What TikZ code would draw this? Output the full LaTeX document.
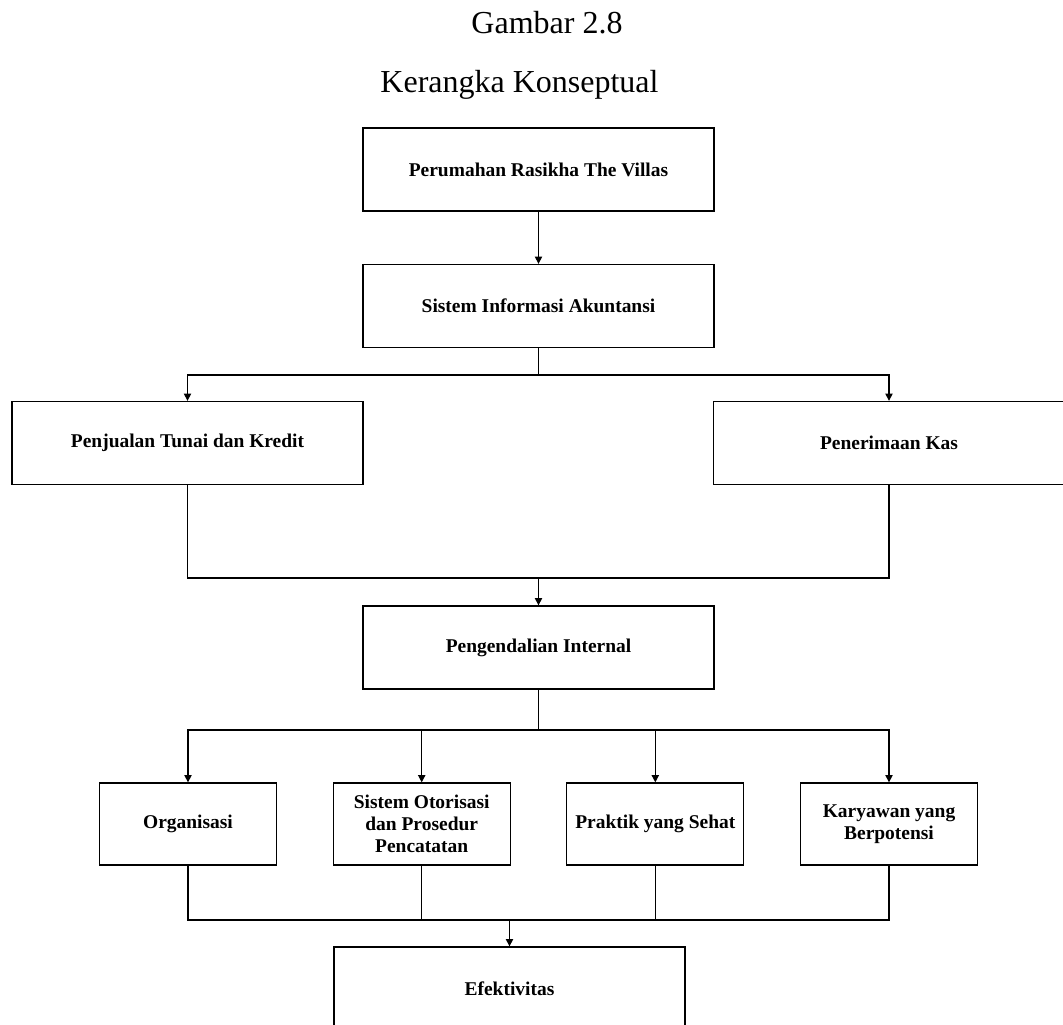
\documentclass[tikz,border=0pt]{standalone}
\usepackage{fontspec}
\setmainfont{Liberation Serif}
\usetikzlibrary{arrows.meta}
\tikzset{
  box/.style={draw, line width=1pt, minimum width=263.25pt, minimum height=62.25pt, inner sep=0pt, align=center, font=\fontsize{14.6}{16.5}\selectfont\bfseries},
  sbox/.style={box, minimum width=132.75pt, minimum height=61.5pt},
  ttl/.style={anchor=base, inner sep=0pt, font=\fontsize{24}{28}\selectfont},
  ln/.style={line width=1pt},
  arr/.style={ln, -{Triangle[length=5.5pt,width=5.5pt]}}
}
\begin{document}
\begin{tikzpicture}[x=0.75pt,y=-0.75pt]
\useasboundingbox (0,0) rectangle (1063,1024);
\clip (0,0) rectangle (1063,1024);
\fill[white] (0,0) rectangle (1063,1024);
\node[ttl] (t1) at (547,34) {Gambar 2.8};
\node[ttl] (t2) at (519.5,93) {Kerangka Konseptual};
\node[box] (b1) at (538.5,169.5) {Perumahan Rasikha The Villas};
\node[box] (b2) at (538.5,306) {Sistem Informasi Akuntansi};
\node[box] (b3) at (187.5,443) {Penjualan Tunai dan Kredit};
\node[box] (b4) at (889,443) {Penerimaan Kas};
\node[box] (b5) at (538.5,647.5) {Pengendalian Internal};
\node[sbox] (c1) at (188,824) {Organisasi};
\node[sbox] (c2) at (421.7,824) {Sistem Otorisasi\\dan Prosedur\\Pencatatan};
\node[sbox] (c3) at (655.3,824) {Praktik yang Sehat};
\node[sbox] (c4) at (889,824) {Karyawan yang\\Berpotensi};
\node[box] (e) at (509.5,988.5) {Efektivitas};
\coordinate (j1) at (538.5,375);
\coordinate (j2) at (538.5,578);
\coordinate (j3) at (538.5,730);
\coordinate (j4) at (509.5,920);
\draw[arr] (b1) -- (b2);
\draw[ln] (b2.south) -- (j1);
\draw[arr] (j1) -| (b3.north);
\draw[arr] (j1) -| (b4.north);
\draw[ln] (b3.south) |- (j2);
\draw[ln] (b4.south) |- (j2);
\draw[arr] (j2) -- (b5.north);
\draw[ln] (b5.south) -- (j3);
\draw[arr] (j3) -| (c1.north);
\draw[arr] (j3) -| (c2.north);
\draw[arr] (j3) -| (c3.north);
\draw[arr] (j3) -| (c4.north);
\draw[ln] (c1.south) |- (j4);
\draw[ln] (c4.south) |- (j4);
\draw[ln] (c2.south) -- (c2.south |- j4);
\draw[ln] (c3.south) -- (c3.south |- j4);
\draw[arr] (j4) -- (e.north);
\end{tikzpicture}
\end{document}
